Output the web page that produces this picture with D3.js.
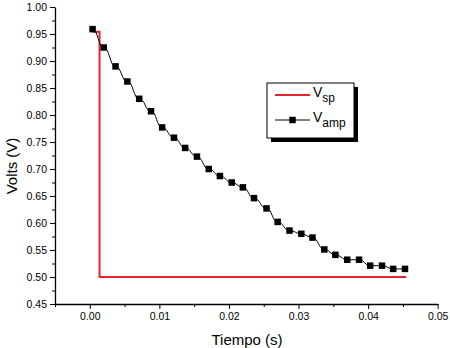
<!DOCTYPE html>
<html>
<head>
<meta charset="utf-8">
<script src="https://cdn.jsdelivr.net/npm/d3@7"></script>
<style>
  body { margin: 0; background: #fff; }
  svg { font-family: "Liberation Sans", Arial, sans-serif; }
  .axis path, .axis line { stroke: #000; }
  .axis text { font-size: 10.5px; fill: #000; }
</style>
</head>
<body>
<svg width="450" height="348"></svg>
<script>
// data
var vspTime = [0.0004, 0.0014, 0.0014, 0.0455];
var vspVolts = [0.954, 0.954, 0.50, 0.50];

var vampTime = [0.0004, 0.0020, 0.0037, 0.0054, 0.0071, 0.0088, 0.0104, 0.0121, 0.0137,
    0.0154, 0.0171, 0.0187, 0.0204, 0.0220, 0.0236, 0.0254, 0.0270, 0.0287, 0.0304,
    0.0320, 0.0337, 0.0353, 0.0370, 0.0387, 0.0403, 0.0420, 0.0436, 0.0453];
var vampVolts = [0.959, 0.925, 0.890, 0.862, 0.830, 0.807, 0.777, 0.758, 0.739,
    0.723, 0.700, 0.687, 0.675, 0.666, 0.646, 0.627, 0.602, 0.586, 0.580,
    0.573, 0.551, 0.541, 0.532, 0.532, 0.521, 0.521, 0.515, 0.515];

var xTicks = [0.00, 0.01, 0.02, 0.03, 0.04, 0.05];
var xMinor = [-0.005, 0.005, 0.015, 0.025, 0.035, 0.045];
var yTicks = [0.45, 0.50, 0.55, 0.60, 0.65, 0.70, 0.75, 0.80, 0.85, 0.90, 0.95, 1.00];
var yMinor = [0.475, 0.525, 0.575, 0.625, 0.675, 0.725, 0.775, 0.825, 0.875, 0.925, 0.975];

var svg = d3.select('svg');
var margin = {top: 7, left: 55};
var width = 382.7;
var height = 297;

var g = svg.append("g")
    .attr("transform", "translate(" + margin.left + "," + margin.top + ")");

var x = d3.scaleLinear().domain([-0.005, 0.05]).range([0, width]);
var y = d3.scaleLinear().domain([0.45, 1.00]).range([height, 0]);

// minor ticks first
g.append("g")
    .attr("class", "axis")
    .attr("transform", "translate(0," + height + ")")
    .call(d3.axisBottom(x).tickValues(xMinor).tickSize(3).tickFormat(""))
    .select(".domain").remove();
g.append("g")
    .attr("class", "axis")
    .call(d3.axisLeft(y).tickValues(yMinor).tickSize(3).tickFormat(""))
    .select(".domain").remove();

var xAxis = g.append("g")
    .attr("class", "axis x")
    .attr("transform", "translate(0," + height + ")")
    .call(d3.axisBottom(x).tickValues(xTicks).tickSize(5).tickSizeOuter(0).tickPadding(4)
        .tickFormat(d3.format(".2f")));
xAxis.select(".domain").attr("stroke-width", 1.3);

var yAxis = g.append("g")
    .attr("class", "axis y")
    .call(d3.axisLeft(y).tickValues(yTicks).tickSize(5).tickSizeOuter(0).tickPadding(3)
        .tickFormat(d3.format(".2f")));
yAxis.select(".domain").attr("stroke-width", 1.3);

// Vsp (red)
var vsp = vspTime.map(function(t, i) { return [t, vspVolts[i]]; });
g.append("path")
    .datum(vsp)
    .attr("fill", "none")
    .attr("stroke", "#e8232b")
    .attr("stroke-width", 2)
    .attr("d", d3.line().x(function(d) { return x(d[0]); }).y(function(d) { return y(d[1]); }));

// Vamp (black with squares)
var vamp = vampTime.map(function(t, i) { return [t, vampVolts[i]]; });
g.append("path")
    .datum(vamp)
    .attr("fill", "none")
    .attr("stroke", "#000")
    .attr("stroke-width", 1)
    .attr("d", d3.line().curve(d3.curveBumpX)
        .x(function(d) { return x(d[0]); }).y(function(d) { return y(d[1]); }));

g.selectAll(".pt")
    .data(vamp)
    .enter().append("rect")
    .attr("class", "pt")
    .attr("x", function(d) { return x(d[0]) - 3.25; })
    .attr("y", function(d) { return y(d[1]) - 3.25; })
    .attr("width", 6.5)
    .attr("height", 6.5)
    .attr("fill", "#000");

// axis titles
svg.append("text")
    .attr("x", 247).attr("y", 345)
    .attr("text-anchor", "middle")
    .style("font-size", "15px")
    .text("Tiempo (s)");
svg.append("text")
    .attr("transform", "translate(17,166) rotate(-90)")
    .attr("text-anchor", "middle")
    .style("font-size", "15px")
    .text("Volts (V)");

// legend
var lg = svg.append("g").attr("transform", "translate(267,83)");
lg.append("rect").attr("x", 4).attr("y", 4).attr("width", 87).attr("height", 55).attr("fill", "#000");
lg.append("rect").attr("x", 0).attr("y", 0).attr("width", 87).attr("height", 55)
    .attr("fill", "#fff").attr("stroke", "#000").attr("stroke-width", 1);
lg.append("line").attr("x1", 8).attr("x2", 43).attr("y1", 12).attr("y2", 12)
    .attr("stroke", "#e8232b").attr("stroke-width", 2);
lg.append("line").attr("x1", 8).attr("x2", 43).attr("y1", 37).attr("y2", 37)
    .attr("stroke", "#000").attr("stroke-width", 1);
lg.append("rect").attr("x", 22.25).attr("y", 33.75).attr("width", 6.5).attr("height", 6.5).attr("fill", "#000");

var t1 = lg.append("text").attr("x", 46).attr("y", 14).style("font-size", "14px");
t1.append("tspan").text("V");
t1.append("tspan").attr("dy", 5).style("font-size", "12px").text("sp");
var t2 = lg.append("text").attr("x", 46).attr("y", 39).style("font-size", "14px");
t2.append("tspan").text("V");
t2.append("tspan").attr("dy", 5).style("font-size", "12px").text("amp");
</script>
</body>
</html>
